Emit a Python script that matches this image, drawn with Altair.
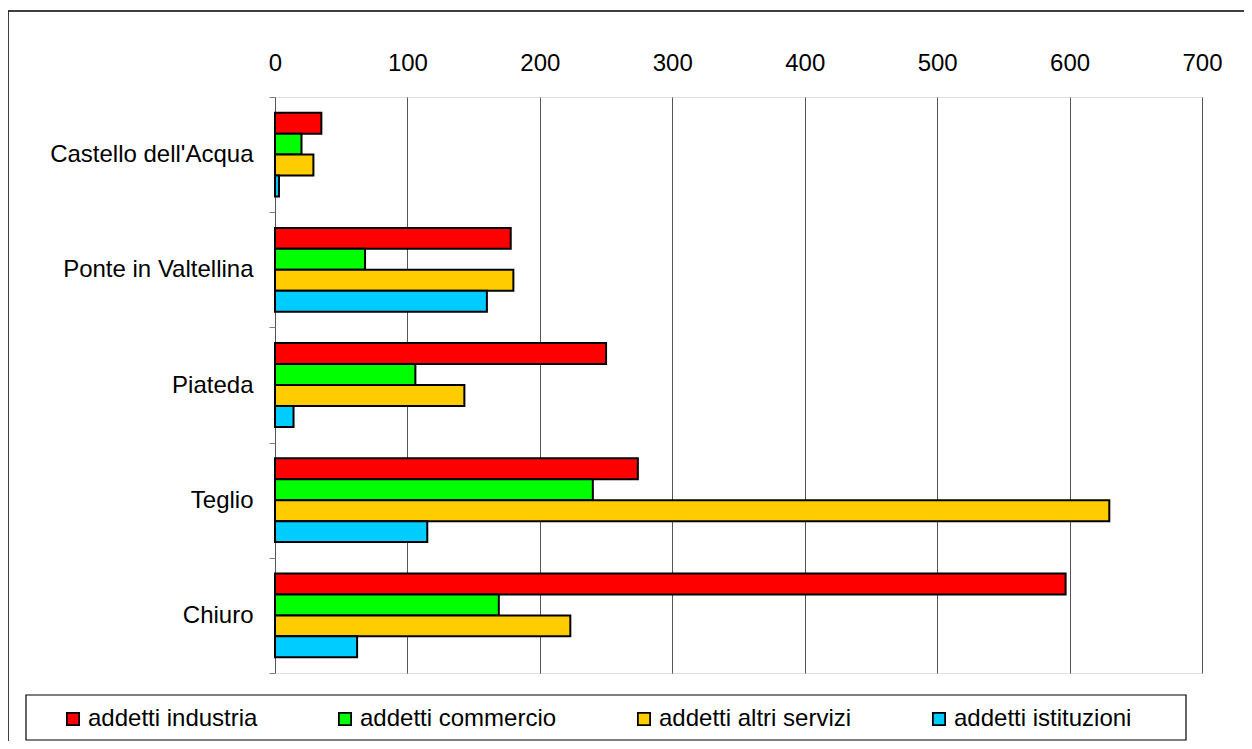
import altair as alt
import pandas as pd

categories = ["Castello dell'Acqua", "Ponte in Valtellina", "Piateda", "Teglio", "Chiuro"]
series = ["addetti industria", "addetti commercio", "addetti altri servizi", "addetti istituzioni"]
industria = [35, 178, 250, 274, 597]
commercio = [20, 68, 106, 240, 169]
altri_servizi = [29, 180, 143, 630, 223]
istituzioni = [3, 160, 14, 115, 62]
colors = ["#FF0000", "#00FF00", "#FFCC00", "#00CCFF"]
x_ticks = [0, 100, 200, 300, 400, 500, 600, 700]

rows = []
for s, vals in zip(series, [industria, commercio, altri_servizi, istituzioni]):
    for c, v in zip(categories, vals):
        rows.append({"comune": c, "serie": s, "valore": v})
df = pd.DataFrame(rows)

FONT = "Liberation Sans"
FS = 24
W, H = 927, 576

bars = alt.Chart(df).mark_bar(stroke="black", strokeWidth=2).encode(
    y=alt.Y("comune:N", sort=categories, title=None,
            scale=alt.Scale(paddingInner=0, paddingOuter=0),
            axis=alt.Axis(tickBand="extent", ticks=True, tickSize=6, tickColor="#808080",
                          domain=False, grid=False, labelFont=FONT, labelFontSize=FS,
                          labelColor="black", labelPadding=16, labelLimit=400)),
    yOffset=alt.YOffset("serie:N", sort=series,
                        scale=alt.Scale(paddingInner=0, paddingOuter=0.75)),
    x=alt.X("valore:Q", title=None,
            scale=alt.Scale(domain=[0, 700], nice=False),
            axis=alt.Axis(orient="top", values=x_ticks, ticks=False, domain=False,
                          grid=True, gridColor="#555555", gridWidth=1,
                          labelFont=FONT, labelFontSize=FS, labelColor="black",
                          labelPadding=22, labelFlush=False)),
    color=alt.Color("serie:N", sort=series,
                    scale=alt.Scale(domain=series, range=colors),
                    legend=alt.Legend(orient="none", legendX=-214, legendY=610,
                                      direction="horizontal", columns=4, title=None,
                                      symbolType="square", symbolSize=150,
                                      symbolStrokeColor="black", symbolStrokeWidth=1.8,
                                      symbolOpacity=1, labelLimit=400,
                                      labelFont=FONT, labelFontSize=FS, labelColor="black",
                                      labelOffset=3, columnPadding=75, padding=0)),
)

border_df = pd.DataFrame({"k": [0]})
outer = alt.Chart(border_df).mark_rect(fill=None, stroke="black", strokeWidth=1.5).encode(
    x=alt.value(-267), x2=alt.value(1100), y=alt.value(-86), y2=alt.value(800))
legend_box = alt.Chart(border_df).mark_rect(fill="white", stroke="black", strokeWidth=1.2).encode(
    x=alt.value(-249), x2=alt.value(911), y=alt.value(598), y2=alt.value(643))

chart = alt.layer(outer, legend_box, bars).properties(
    width=W, height=H,
    autosize=alt.AutoSizeParams(type="none"),
    padding={"left": 267, "top": 89, "right": 42, "bottom": 68},
).configure_view(stroke="#808080", strokeWidth=2).configure(background="white")

chart.save("out.html", embed_options={"renderer": "svg", "actions": False})
